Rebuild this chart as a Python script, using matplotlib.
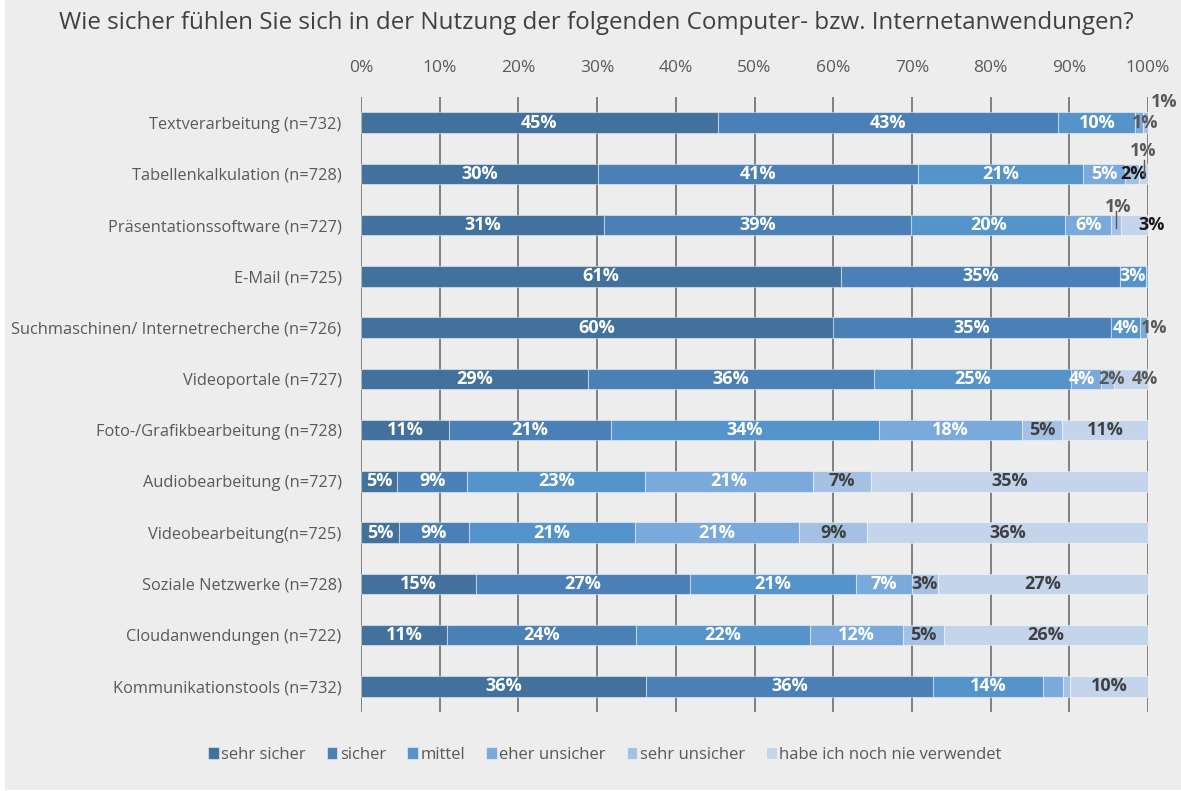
import matplotlib.pyplot as plt
from matplotlib.patches import Rectangle
import numpy as np

plt.rcParams['font.family'] = ['Open Sans', 'DejaVu Sans']

rows = ['Textverarbeitung (n=732)', 'Tabellenkalkulation (n=728)', 'Präsentationssoftware (n=727)',
        'E-Mail (n=725)', 'Suchmaschinen/ Internetrecherche (n=726)', 'Videoportale (n=727)',
        'Foto-/Grafikbearbeitung (n=728)', 'Audiobearbeitung (n=727)', 'Videobearbeitung(n=725)',
        'Soziale Netzwerke (n=728)', 'Cloudanwendungen (n=722)', 'Kommunikationstools (n=732)']
series = ['sehr sicher', 'sicher', 'mittel', 'eher unsicher', 'sehr unsicher', 'habe ich noch nie verwendet']

sehr_sicher = [45.3, 30.1, 30.9, 61.0, 60.0, 28.8, 11.2, 4.6, 4.8, 14.6, 10.9, 36.2]
sicher = [43.3, 40.7, 39.0, 35.4, 35.3, 36.4, 20.6, 8.9, 8.9, 27.2, 24.0, 36.5]
mittel = [9.8, 20.9, 19.6, 3.4, 3.7, 25.0, 34.0, 22.6, 21.1, 21.1, 22.2, 14.0]
eher_unsicher = [1.0, 5.4, 5.8, 0.2, 0.9, 3.8, 18.2, 21.3, 20.9, 7.1, 11.8, 2.5]
sehr_unsicher = [0.6, 1.8, 1.3, 0.0, 0.1, 1.7, 5.1, 7.4, 8.6, 3.3, 5.2, 0.9]
nie_verwendet = [0.0, 1.1, 3.4, 0.0, 0.0, 4.4, 10.9, 35.2, 35.7, 26.7, 25.9, 9.9]

colors = ['#41719c', '#4a80b6', '#5594cb', '#7aa9db', '#a4c1e4', '#c4d4ea']

data = np.array([sehr_sicher, sicher, mittel, eher_unsicher, sehr_unsicher, nie_verwendet])

# labels that are left out or moved (row, series): (dx, dy, colour)
skip = {(11, 3), (11, 4)}
moved = {(0, 3): (0.7, 0.0, '#595959'), (0, 4): (2.3, -0.41, '#595959'),
         (1, 4): (0.2, 0.0, '#1a1a1a'), (1, 5): (0.0, -0.45, '#595959'),
         (2, 4): (0.25, -0.35, '#595959'), (2, 5): (2.2, 0.0, '#1a1a1a'),
         (4, 3): (1.35, 0.0, '#595959'),
         (5, 3): (-0.5, 0.0, 'white'), (5, 4): (0.55, 0.0, '#595959'), (5, 5): (1.7, 0.0, '#595959')}
leaders = {(1, 5), (2, 4)}

fig = plt.figure(figsize=(11.81, 7.91), dpi=100)
fig.patches.append(Rectangle((0.004, 0.0015), 0.996, 0.9985, transform=fig.transFigure,
                             facecolor='#ededed', edgecolor='none', zorder=-10))
ax = fig.add_axes([361 / 1181, 1 - 712 / 791, (1148 - 361) / 1181, (712 - 97) / 791])
ax.set_facecolor('none')

y = np.arange(len(rows))
left = np.zeros(len(rows))
for j, name in enumerate(series):
    ax.barh(y, data[j], left=left, height=0.4, color=colors[j], label=name,
            edgecolor=(1, 1, 1, 0.45), linewidth=0.8, zorder=3)
    for i in range(len(rows)):
        v = data[j][i]
        if round(v) < 1 or (i, j) in skip:
            continue
        cx = left[i] + v / 2
        dx, dy, col = moved.get((i, j), (0, 0, 'white' if j < 4 else '#404040'))
        ax.text(cx + dx, y[i] + dy, f'{round(v)}%', ha='center', va='center', color=col,
                fontsize=13, fontweight='bold', zorder=5)
        if (i, j) in leaders:
            ax.plot([cx, cx], [y[i] - 0.27, y[i] + 0.05], color='#595959', lw=1, zorder=6)
    left += data[j]

ax.set_xlim(0, 100)
ax.set_ylim(len(rows) - 0.5, -0.5)
ax.set_xticks(np.arange(0, 101, 10))
ax.set_xticklabels([f'{t}%' for t in range(0, 101, 10)])
ax.xaxis.tick_top()
ax.tick_params(axis='x', length=0, pad=15, labelsize=12.5, labelcolor='#595959')
ax.set_yticks(y)
ax.set_yticklabels(rows)
ax.tick_params(axis='y', length=0, pad=14, labelsize=11.8, labelcolor='#595959')
ax.grid(axis='x', color='#808080', linewidth=1.4, zorder=0)
ax.set_axisbelow(True)
for s in ax.spines.values():
    s.set_visible(False)

fig.text(0.505, 1 - 23 / 791, 'Wie sicher fühlen Sie sich in der Nutzung der folgenden Computer- bzw. Internetanwendungen?',
         ha='center', va='center', fontsize=17.4, color='#404040')

fig.legend(loc='center', bbox_to_anchor=(0.512, 1 - 755 / 791), ncol=6, frameon=False,
           handlelength=0.65, handleheight=0.7, handletextpad=0.15, columnspacing=1.25,
           fontsize=12, labelcolor='#595959')

fig.savefig('out.png', dpi=100)
